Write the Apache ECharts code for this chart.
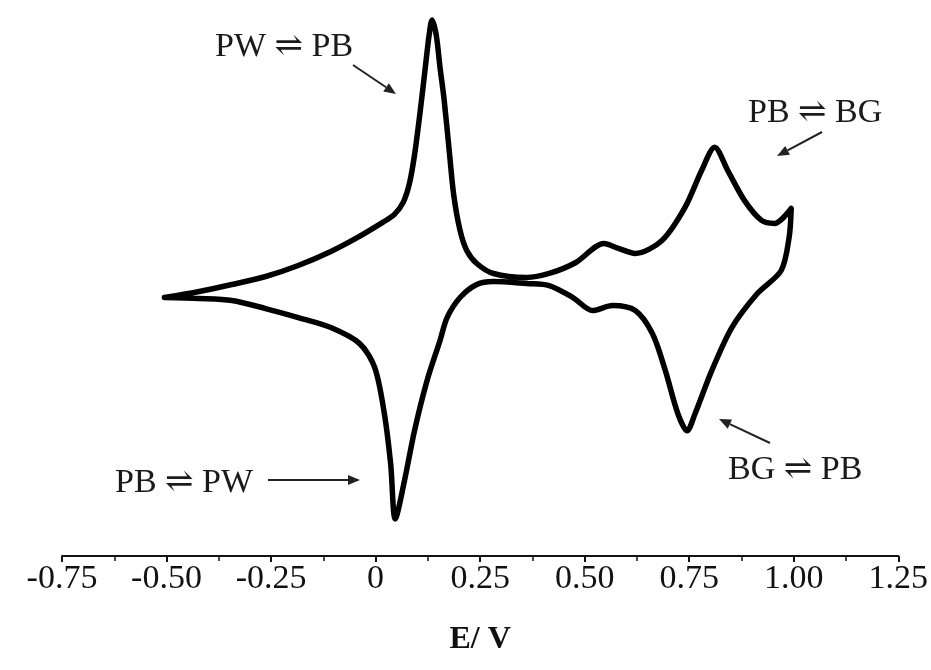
<!DOCTYPE html>
<html><head><meta charset="utf-8">
<script src="https://cdn.jsdelivr.net/npm/echarts@6/dist/echarts.min.js"></script>
<style>html,body{margin:0;padding:0;background:#fff}#c{width:931px;height:670px}</style>
</head><body><div id="c"></div>
<script>
// Anodic scan (-0.5 V -> 1.0 V)
var E_anodic = [-0.505,-0.422,-0.344,-0.263,-0.185,-0.107,-0.043,0.017,0.045,0.066,0.081,0.093,0.107,0.119,0.128,0.135,0.145,0.154,0.164,0.176,0.187,0.202,0.218,0.242,0.282,0.361,0.415,0.479,0.546,0.581,0.621,0.685,0.740,0.780,0.811,0.842,0.882,0.923,0.954,0.994];
var I_anodic = [-1.2,-0.6,0.1,0.9,2.0,3.4,4.8,6.3,7.1,8.3,10.2,13.0,17.5,21.8,25.0,26.5,25.0,21.8,18.5,13.5,9.0,5.5,3.5,2.2,1.2,0.8,1.2,2.3,4.2,3.7,3.2,4.5,7.8,11.5,13.8,11.5,8.5,6.5,6.2,7.7];
// Cathodic scan (1.0 V -> -0.5 V)
var E_cathodic = [0.989,0.970,0.913,0.852,0.804,0.764,0.745,0.723,0.693,0.662,0.621,0.567,0.519,0.472,0.415,0.361,0.282,0.242,0.202,0.171,0.154,0.123,0.093,0.069,0.047,0.036,0.021,-0.002,-0.038,-0.107,-0.185,-0.263,-0.344,-0.422,-0.505];
var I_cathodic = [4.8,1.5,-0.8,-4.2,-8.5,-12.8,-14.5,-12.8,-8.5,-4.8,-2.5,-2.0,-2.5,-1.2,0.0,0.2,0.4,0.1,-1.2,-3.2,-5.5,-9.5,-14.5,-19.5,-23.3,-17.8,-12.8,-8.2,-5.8,-4.2,-3.2,-2.3,-1.5,-1.3,-1.2];
var xTicks = [-0.75,-0.5,-0.25,0,0.25,0.5,0.75,1.0,1.25];
var tickLabels = {'-0.75':'-0.75','-0.5':'-0.50','-0.25':'-0.25','0':'0','0.25':'0.25','0.5':'0.50','0.75':'0.75','1':'1.00','1.25':'1.25'};
var annotations = ['PW \u21CC PB','PB \u21CC BG','BG \u21CC PB','PB \u21CC PW'];

var loop = [];
for (var i = 0; i < E_anodic.length; i++) loop.push([E_anodic[i], I_anodic[i]]);
for (var j = 0; j < E_cathodic.length; j++) loop.push([E_cathodic[j], I_cathodic[j]]);

var serif = '"Liberation Serif", "DejaVu Serif", serif';
function arrow(x1,y1,x2,y2){
  var dx=x2-x1, dy=y2-y1, L=Math.sqrt(dx*dx+dy*dy), ux=dx/L, uy=dy/L;
  var hl=12, hw=5;
  var bx=x2-ux*hl, by=y2-uy*hl;
  return [
    {type:'line', shape:{x1:x1,y1:y1,x2:bx,y2:by}, style:{stroke:'#222',lineWidth:2}},
    {type:'polygon', shape:{points:[[x2,y2],[bx-uy*hw,by+ux*hw],[bx+uy*hw,by-ux*hw]]}, style:{fill:'#222'}}
  ];
}
function label(txt,x,y){
  return {type:'text', x:x, y:y, style:{text:txt, font:'34px '+serif, fill:'#1a1a1a', textAlign:'left', textVerticalAlign:'middle'}};
}
var g = [];
g.push(label(annotations[0],215,47));
g = g.concat(arrow(353,65,396,94));
g.push(label(annotations[1],748,113));
g = g.concat(arrow(822,132,777,156));
g.push(label(annotations[2],728,470));
g = g.concat(arrow(770,443,719,419));
g.push(label(annotations[3],115,483));
g = g.concat(arrow(268,480,360,480));

var chart = echarts.init(document.getElementById('c'), null, {renderer:'canvas'});
chart.setOption({
  animation:false,
  backgroundColor:'#fff',
  grid:{left:62, right:26, top:5, bottom:114},
  xAxis:{
    type:'value', min:-0.75, max:1.25, interval:0.25,
    position:'bottom',
    axisLine:{show:true, onZero:false, lineStyle:{color:'#111', width:2}},
    axisTick:{show:true, length:6, lineStyle:{color:'#111', width:2}},
    minorTick:{show:true, splitNumber:2, length:5, lineStyle:{color:'#111', width:1.5}},
    splitLine:{show:false},
    axisLabel:{margin:6, color:'#111', fontFamily:serif, fontSize:34,
      formatter:function(v){var k=String(Math.round(v*100)/100); return tickLabels[k]!==undefined?tickLabels[k]:k;}},
    name:'E/ V', nameLocation:'middle', nameGap:68,
    nameTextStyle:{color:'#111', fontFamily:serif, fontSize:32, fontWeight:'bold'}
  },
  yAxis:{type:'value', min:-27, max:28, show:false},
  series:[{
    type:'line', data:loop, showSymbol:false, smooth:0.3,
    lineStyle:{color:'#000', width:5.5, cap:'round', join:'round'}
  }],
  graphic:g
});
</script></body></html>
